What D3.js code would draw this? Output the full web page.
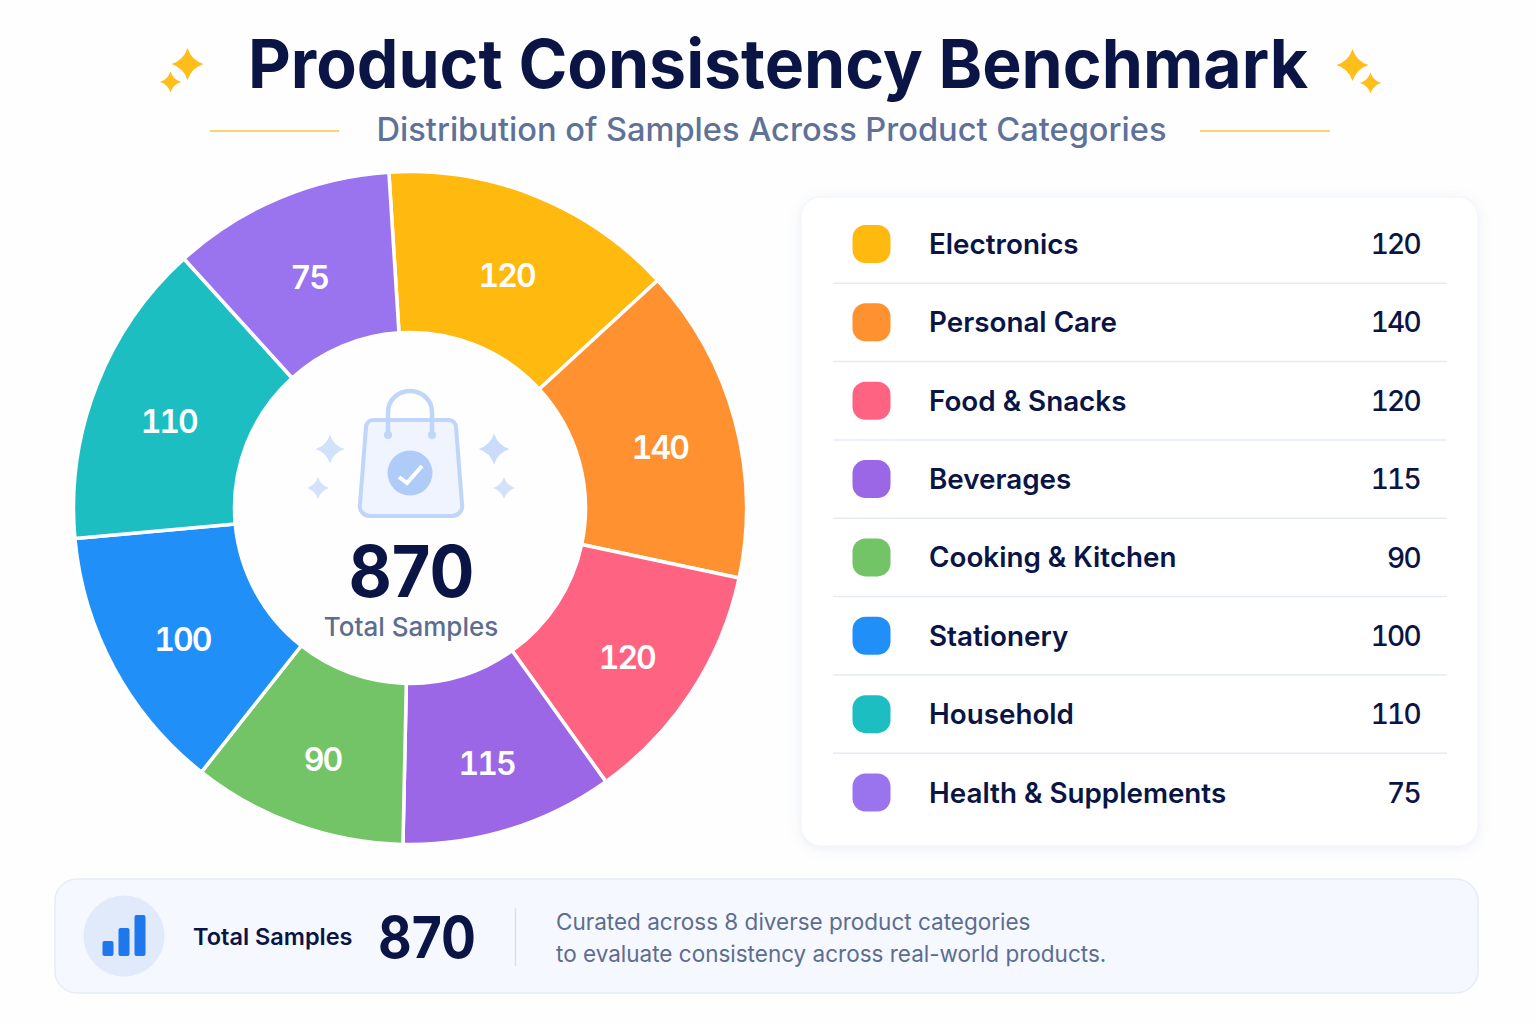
<!DOCTYPE html>
<html>
<head>
<meta charset="utf-8">
<title>Product Consistency Benchmark</title>
<script src="https://cdn.jsdelivr.net/npm/d3@7"></script>
<style>
  html, body { margin: 0; padding: 0; background: #fefefe; }
  svg { display: block; }
  text { font-family: Inter, "Noto Sans", sans-serif; }
  .num { font-feature-settings: "tnum"; }
</style>
</head>
<body>
<svg id="chart" width="1536" height="1024"></svg>
<script>
const categories = ["Electronics", "Personal Care", "Food & Snacks", "Beverages",
  "Cooking & Kitchen", "Stationery", "Household", "Health & Supplements"];
const samples = [120, 140, 120, 115, 90, 100, 110, 75];
// the drawn slices in the picture are not proportional to their labels,
// so the sweep of each one is read off separately (degrees)
const sliceSweep = [51, 54.6, 42.4, 36.8, 37.1, 46.5, 53, 38.6];
const colors = ["#ffb90f", "#ff9130", "#ff6382", "#9b67e6", "#73c467", "#2090f8", "#1cbec1", "#9a74ee"];
const total = 870;

const navy = "#0a1546";
const slate = "#5d6d90";

const svg = d3.select("#chart");

const defs = svg.append("defs");
const shadow = defs.append("filter").attr("id", "cardShadow")
  .attr("x", "-5%").attr("y", "-5%").attr("width", "110%").attr("height", "110%");
shadow.append("feDropShadow").attr("dx", 0).attr("dy", 2).attr("stdDeviation", 6)
  .attr("flood-color", "#8fa3c8").attr("flood-opacity", 0.18);

// four point star, used for every sparkle
function sparkle(x, y, r, fill) {
  const k = r * 0.24;
  const p = `M0,${-r}Q${k},${-k} ${r},0Q${k},${k} 0,${r}Q${-k},${k} ${-r},0Q${-k},${-k} 0,${-r}Z`;
  svg.append("path").attr("d", p).attr("transform", `translate(${x},${y})`).attr("fill", fill);
}

// header
svg.append("text").attr("x", 778).attr("y", 88).attr("text-anchor", "middle")
  .attr("font-size", 68).attr("font-weight", 700).attr("fill", navy)
  .attr("textLength", 1060).attr("lengthAdjust", "spacingAndGlyphs")
  .text("Product Consistency Benchmark");
svg.append("text").attr("x", 771.5).attr("y", 141).attr("text-anchor", "middle")
  .attr("font-size", 32).attr("font-weight", 500).attr("fill", "#5f7199")
  .attr("textLength", 790).attr("lengthAdjust", "spacingAndGlyphs")
  .text("Distribution of Samples Across Product Categories");
[[210, 339], [1200, 1330]].forEach(d => {
  svg.append("line").attr("x1", d[0]).attr("x2", d[1]).attr("y1", 131).attr("y2", 131)
    .attr("stroke", "#f8c544").attr("stroke-width", 1.6);
});
sparkle(187.5, 64, 16, "#ffbe1a");
sparkle(170.5, 82, 10.5, "#ffbe1a");
sparkle(1352.5, 65, 16, "#ffbe1a");
sparkle(1370.5, 83, 10.5, "#ffbe1a");

// donut
const cx = 410, cy = 508, outerR = 336.5, innerR = 175.5, labelR = 259, labelDrop = 8;
const toRad = d3.scaleLinear().domain([0, 360]).range([0, 2 * Math.PI]);
const startDeg = -3.6;

const pie = d3.pie().sort(null).value((d, i) => sliceSweep[i])
  .startAngle(toRad(startDeg)).endAngle(toRad(startDeg + 360));
const arc = d3.arc().innerRadius(innerR).outerRadius(outerR);
const labelArc = d3.arc().innerRadius(labelR).outerRadius(labelR);

const donut = svg.append("g").attr("transform", `translate(${cx},${cy})`);
const slices = pie(samples);

donut.selectAll("path").data(slices).join("path")
  .attr("d", arc)
  .attr("fill", (d, i) => colors[i])
  .attr("stroke", "#fff").attr("stroke-width", 3.5).attr("stroke-linejoin", "round");

donut.selectAll("text").data(slices).join("text")
  .attr("class", "num")
  .attr("transform", d => {
    const c = labelArc.centroid(d);
    return `translate(${c[0]},${c[1] + labelDrop})`;
  })
  .attr("text-anchor", "middle").attr("dy", "0.36em")
  .attr("font-size", 32).attr("font-weight", 600).attr("fill", "#fff")
  .attr("letter-spacing", -2)
  .text(d => d.data);

// bag icon in the hole
const bag = svg.append("g");
bag.append("path")
  .attr("d", "M373,420H449A7,7 0 0 1 456,427L462,504A10,10 0 0 1 452,516H370A10,10 0 0 1 360,504L366,427A7,7 0 0 1 373,420Z")
  .attr("fill", "#eff4fe").attr("stroke", "#bfd5fa").attr("stroke-width", 4);
bag.append("path")
  .attr("d", "M388,435V412A22,21 0 0 1 432,412V435")
  .attr("fill", "none").attr("stroke", "#bfd5fa").attr("stroke-width", 4.5);
[388, 432].forEach(x => bag.append("circle").attr("cx", x).attr("cy", 435).attr("r", 4).attr("fill", "#bfd5fa"));
bag.append("circle").attr("cx", 410).attr("cy", 473).attr("r", 22.5).attr("fill", "#afcbf8");
bag.append("path").attr("d", "M399,477L407,483L422,466")
  .attr("fill", "none").attr("stroke", "#fff").attr("stroke-width", 4);
sparkle(330, 449, 14.5, "#d3e2fb");
sparkle(318, 488, 11, "#d3e2fb");
sparkle(494, 449, 15.5, "#cbdcfa");
sparkle(504, 488, 11, "#d3e2fb");

svg.append("text").attr("x", 411.5).attr("y", 597).attr("text-anchor", "middle")
  .attr("font-size", 71).attr("font-weight", 700).attr("fill", navy)
  .attr("textLength", 126).attr("lengthAdjust", "spacingAndGlyphs").text(total);
svg.append("text").attr("x", 411).attr("y", 636).attr("text-anchor", "middle")
  .attr("font-size", 26).attr("font-weight", 500).attr("fill", slate).text("Total Samples");

// legend card
svg.append("rect").attr("x", 801).attr("y", 197).attr("width", 677).attr("height", 649).attr("rx", 20)
  .attr("fill", "#fff").attr("stroke", "#f1f4fa").attr("filter", "url(#cardShadow)");

const rowY = d3.scalePoint().domain(categories).range([244, 792.5]);
const rowStep = rowY.step();

const rows = svg.append("g").selectAll("g").data(categories).join("g")
  .attr("transform", d => `translate(0,${rowY(d)})`);
rows.append("rect").attr("x", 852.5).attr("y", -19).attr("width", 38).attr("height", 38).attr("rx", 13)
  .attr("fill", (d, i) => colors[i]);
rows.append("text").attr("x", 929).attr("dy", "0.36em")
  .attr("font-size", 27.8).attr("font-weight", 600).attr("fill", navy).text(d => d);
rows.append("text").attr("class", "num").attr("x", 1420).attr("dy", "0.36em").attr("text-anchor", "end")
  .attr("font-size", 28).attr("font-weight", 500).attr("fill", navy)
  .attr("letter-spacing", -1.7).text((d, i) => samples[i]);
rows.filter((d, i) => i < categories.length - 1).append("line")
  .attr("x1", 833).attr("x2", 1447).attr("y1", rowStep / 2).attr("y2", rowStep / 2)
  .attr("stroke", "#e5eaf3").attr("stroke-width", 1.5);

// footer card
svg.append("rect").attr("x", 55).attr("y", 879).attr("width", 1423).attr("height", 114).attr("rx", 22)
  .attr("fill", "#f5f8fe").attr("stroke", "#e6edf8").attr("stroke-width", 1.5);
svg.append("circle").attr("cx", 124).attr("cy", 936).attr("r", 40.5).attr("fill", "#e0eafb");
[[102.5, 941], [118.5, 928], [134.5, 915]].forEach(d => {
  svg.append("rect").attr("x", d[0]).attr("y", d[1]).attr("width", 11).attr("height", 956 - d[1]).attr("rx", 2)
    .attr("fill", "#1f77ee");
});
svg.append("text").attr("x", 193).attr("y", 945)
  .attr("font-size", 23.5).attr("font-weight", 600).attr("fill", navy).text("Total Samples");
svg.append("text").attr("x", 378).attr("y", 958)
  .attr("font-size", 58).attr("font-weight", 700).attr("fill", navy)
  .attr("textLength", 98).attr("lengthAdjust", "spacingAndGlyphs").text(total);
svg.append("line").attr("x1", 515.5).attr("x2", 515.5).attr("y1", 908).attr("y2", 966)
  .attr("stroke", "#d9e1ee").attr("stroke-width", 1.5);
svg.append("text").attr("x", 556).attr("y", 930)
  .attr("font-size", 22.5).attr("fill", slate).text("Curated across 8 diverse product categories");
svg.append("text").attr("x", 556).attr("y", 962)
  .attr("font-size", 22.5).attr("fill", slate).text("to evaluate consistency across real-world products.");
</script>
</body>
</html>
